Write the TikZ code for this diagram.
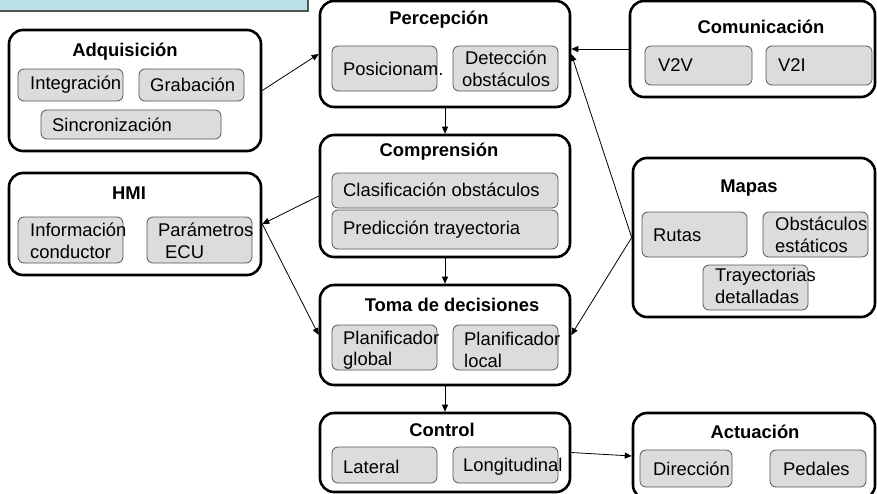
\documentclass[tikz,border=0pt]{standalone}
\usepackage{fontspec}
\setmainfont{Liberation Sans}
\usetikzlibrary{fit,arrows.meta}
\definecolor{hdrblue}{HTML}{B9E1E6}
\definecolor{subfill}{HTML}{DCDCDC}
\definecolor{subline}{HTML}{555555}
\tikzset{
  outer/.style={draw=black, line width=2.6pt, rounded corners=14pt, inner sep=0pt, fill=white},
  sub/.style={draw=subline, line width=0.8pt, fill=subfill, rounded corners=6pt, inner sep=0pt},
  txt/.style={inner sep=0pt, font=\fontsize{18.4}{21.5}\selectfont, align=left, anchor=west},
  ttl/.style={inner sep=0pt, font=\fontsize{18.4}{21.5}\selectfont\bfseries},
  arr/.style={line width=0.8pt, -{Triangle[length=7pt,width=6pt]}}
}
\begin{document}
\begin{tikzpicture}[x=1pt,y=-1pt]
\useasboundingbox (0,0) rectangle (877,493);
% header strip
\node[draw=subline, line width=1.2pt, fill=hdrblue, inner sep=0pt, fit={(-2,-2) (308,11)}] (hdr) {};

% Adquisicion
\node[outer, fit={(9,30) (261,151)}] (adq) {};
\node[ttl] (adq-t) at (125,52) {Adquisición};
\node[sub, fit={(18,69) (123,101)}] (adq-a) {};
\node[sub, fit={(139,69) (244,101)}] (adq-b) {};
\node[sub, fit={(41,110) (221,139)}] (adq-c) {};
\node[txt] (adq-at) at (30,85) {Integración};
\node[txt] (adq-bt) at (150,85) {Grabación};
\node[txt] (adq-ct) at (52,125) {Sincronización};

% Percepcion
\node[outer, fit={(320,1) (570,107)}] (perc) {};
\node[ttl] (perc-t) at (439,20) {Percepción};
\node[sub, fit={(332,46) (437,91)}] (perc-a) {};
\node[sub, fit={(453,46) (558,91)}] (perc-b) {};
\node[txt] (perc-at) at (343,69) {Posicionam.};
\node[txt, align=center, anchor=center] (perc-bt) at (506,69) {Detección\\obstáculos};

% Comunicacion
\node[outer, fit={(630,1) (875,97)}] (com) {};
\node[ttl] (com-t) at (761,27) {Comunicación};
\node[sub, fit={(645,46) (752,85)}] (com-a) {};
\node[sub, fit={(766,46) (872,85)}] (com-b) {};
\node[txt] (com-at) at (658,65) {V2V};
\node[txt] (com-bt) at (778,65) {V2I};

% HMI
\node[outer, fit={(9,173) (261,275)}] (hmi) {};
\node[ttl] (hmi-t) at (129,193) {HMI};
\node[sub, fit={(18,217) (123,263)}] (hmi-a) {};
\node[sub, fit={(147,217) (252,263)}] (hmi-b) {};
\node[txt] (hmi-at) at (30,241) {Información\\conductor};
\node[txt] (hmi-bt) at (158,241) {Parámetros\\\hspace*{7pt}ECU};

% Comprension
\node[outer, fit={(320,135) (570,257)}] (comp) {};
\node[ttl] (comp-t) at (439,152) {Comprensión};
\node[sub, fit={(332,173) (558,208)}] (comp-a) {};
\node[sub, fit={(332,210) (558,249)}] (comp-b) {};
\node[txt] (comp-at) at (343,190) {Clasificación obstáculos};
\node[txt] (comp-bt) at (343,230) {Predicción trayectoria};

% Toma de decisiones
\node[outer, fit={(320,285) (570,385)}] (toma) {};
\node[ttl] (toma-t) at (452,305) {Toma de decisiones};
\node[sub, fit={(332,325) (437,370)}] (toma-a) {};
\node[sub, fit={(453,325) (558,370)}] (toma-b) {};
\node[txt] (toma-at) at (343,350) {Planificador\\global};
\node[txt] (toma-bt) at (464,350) {Planificador\\local};

% Mapas
\node[outer, fit={(633,158) (875,317)}] (map) {};
\node[ttl] (map-t) at (749,188) {Mapas};
\node[sub, fit={(642,212) (747,257)}] (map-a) {};
\node[sub, fit={(763,212) (868,257)}] (map-b) {};
\node[sub, fit={(703,265) (808,310)}] (map-c) {};
\node[txt] (map-at) at (653,235) {Rutas};
\node[txt] (map-bt) at (775,235) {Obstáculos\\estáticos};
\node[txt] (map-ct) at (715,286) {Trayectorias\\detalladas};

% Control
\node[outer, fit={(320,413) (570,492)}] (ctrl) {};
\node[ttl] (ctrl-t) at (442,430) {Control};
\node[sub, fit={(332,447) (437,483)}] (ctrl-a) {};
\node[sub, fit={(453,447) (558,483)}] (ctrl-b) {};
\node[txt] (ctrl-at) at (343,467) {Lateral};
\node[txt] (ctrl-bt) at (463,467) {Longitudinal};

% Actuacion
\node[outer, fit={(633,413) (875,499)}] (act) {};
\node[ttl] (act-t) at (755,432) {Actuación};
\node[sub, fit={(640,450) (732,487)}] (act-a) {};
\node[sub, fit={(770,450) (866,487)}] (act-b) {};
\node[txt] (act-at) at (653,469) {Dirección};
\node[txt] (act-bt) at (783,469) {Pedales};

% connectors
\draw[arr] (adq.east) -- (perc.west);
\draw[arr] (com.west) -- (perc.east |- com.west);
\draw[arr] (map.west) -- (perc.east);
\draw[arr] (map.west) -- (toma.east);
\draw[arr] (perc.south) -- (comp.north);
\draw[arr] (comp.south) -- (toma.north);
\draw[arr] (toma.south) -- (ctrl.north);
\draw[arr] (comp.west) -- (hmi.east);
\draw[arr] (hmi.east) -- (toma.west);
\draw[arr] (ctrl.east) -- (act.west);
\end{tikzpicture}
\end{document}
